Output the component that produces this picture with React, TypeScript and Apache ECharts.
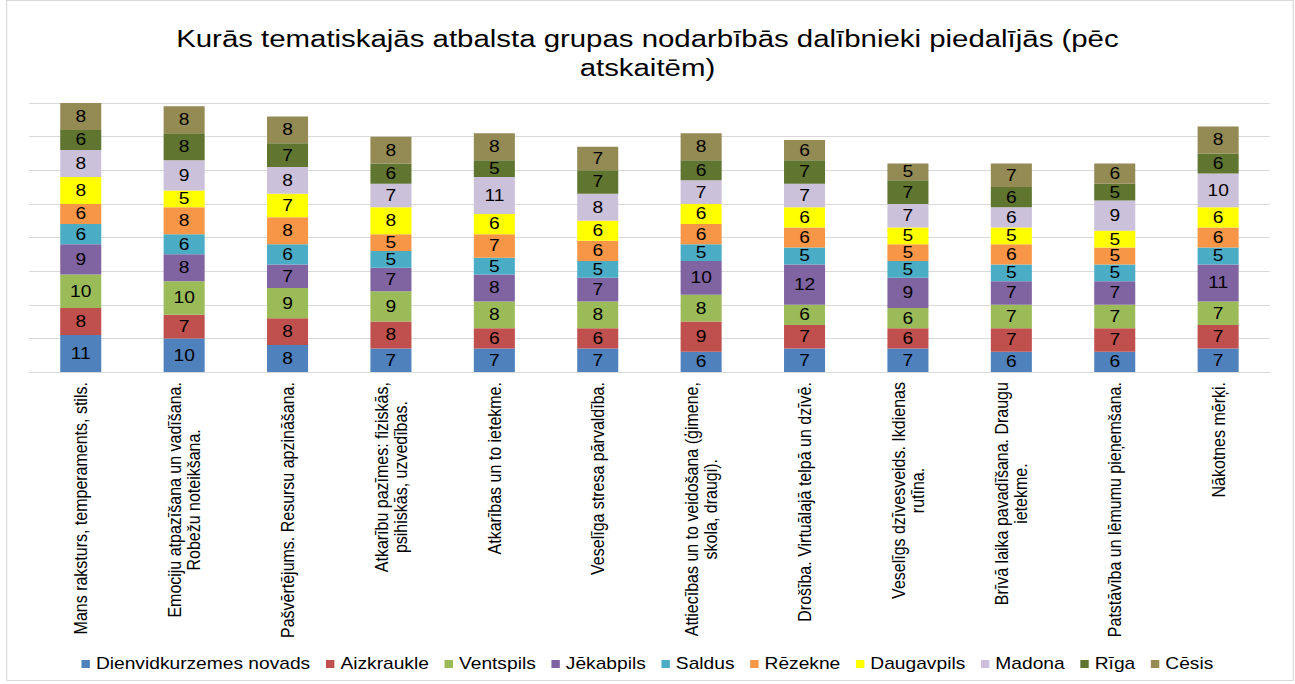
import React, { useEffect, useRef } from "react";
import * as echarts from "echarts";

const categories = [
  "Mans raksturs, temperaments, stils.",
  "Emociju atpazīšana un vadīšana.\nRobežu noteikšana.",
  "Pašvērtējums. Resursu apzināšana.",
  "Atkarību pazīmes: fiziskās,\npsihiskās, uzvedības.",
  "Atkarības un to ietekme.",
  "Veselīga stresa pārvaldība.",
  "Attiecības un to veidošana (ģimene,\nskola, draugi).",
  "Drošība. Virtuālajā telpā un dzīvē.",
  "Veselīgs dzīvesveids. Ikdienas\nrutīna.",
  "Brīvā laika pavadīšana. Draugu\nietekme.",
  "Patstāvība un lēmumu pieņemšana.",
  "Nākotnes mērķi.",
];

const seriesNames = [
  "Dienvidkurzemes novads",
  "Aizkraukle",
  "Ventspils",
  "Jēkabpils",
  "Saldus",
  "Rēzekne",
  "Daugavpils",
  "Madona",
  "Rīga",
  "Cēsis",
];

const dienvidkurzeme = [11, 10, 8, 7, 7, 7, 6, 7, 7, 6, 6, 7];
const aizkraukle = [8, 7, 8, 8, 6, 6, 9, 7, 6, 7, 7, 7];
const ventspils = [10, 10, 9, 9, 8, 8, 8, 6, 6, 7, 7, 7];
const jekabpils = [9, 8, 7, 7, 8, 7, 10, 12, 9, 7, 7, 11];
const saldus = [6, 6, 6, 5, 5, 5, 5, 5, 5, 5, 5, 5];
const rezekne = [6, 8, 8, 5, 7, 6, 6, 6, 5, 6, 5, 6];
const daugavpils = [8, 5, 7, 8, 6, 6, 6, 6, 5, 5, 5, 6];
const madona = [8, 9, 8, 7, 11, 8, 7, 7, 7, 6, 9, 10];
const riga = [6, 8, 7, 6, 5, 7, 6, 7, 7, 6, 5, 6];
const cesis = [8, 8, 8, 8, 8, 7, 8, 6, 5, 7, 6, 8];

const seriesValues = [
  dienvidkurzeme,
  aizkraukle,
  ventspils,
  jekabpils,
  saldus,
  rezekne,
  daugavpils,
  madona,
  riga,
  cesis,
];

const colors = [
  "#4F81BD",
  "#C0504D",
  "#9BBB59",
  "#8064A2",
  "#4BACC6",
  "#F79646",
  "#FFFF00",
  "#CCC1DA",
  "#5F7530",
  "#948A54",
];

const FONT = "'Liberation Sans', Arial, sans-serif";
const STRETCH = 1.2;
const W = 1295;
const H = 684;
const INNER_W = W / STRETCH;

export default function App() {
  const ref = useRef<HTMLDivElement>(null);

  useEffect(() => {
    if (!ref.current) return;
    const chart = echarts.init(ref.current, null, { renderer: "svg" });
    chart.setOption({
      animation: false,
      color: colors,
      textStyle: { fontFamily: FONT },
      title: {
        text: "Kurās tematiskajās atbalsta grupas nodarbībās dalībnieki piedalījās (pēc\natskaitēm)",
        left: "center",
        top: 19,
        textStyle: {
          fontFamily: FONT,
          fontSize: 24.5,
          fontWeight: "normal",
          color: "#000",
          lineHeight: 29,
        },
      },
      graphic: [
        {
          type: "rect",
          shape: { x: 5.5, y: 0.5, width: INNER_W - 7, height: 680 },
          style: { fill: "none", stroke: "#D9D9D9", lineWidth: 1 },
          silent: true,
        },
      ],
      legend: {
        bottom: 7,
        left: "center",
        icon: "rect",
        itemWidth: 7,
        itemHeight: 8,
        itemGap: 13,
        textStyle: { fontFamily: FONT, fontSize: 16, color: "#000", padding: [0, 0, 0, 0] },
        data: seriesNames,
      },
      grid: { left: 24.2, right: 20.8, top: 103, bottom: 312, containLabel: false },
      xAxis: {
        type: "category",
        data: categories,
        axisLine: { lineStyle: { color: "#D9D9D9" } },
        axisTick: { show: false },
        axisLabel: {
          interval: 0,
          rotate: 90,
          margin: 10,
          fontFamily: FONT,
          fontSize: 16,
          color: "#000",
          lineHeight: 16,
          formatter: (v: string) =>
            v
              .split("\n")
              .map((l) => `{c|${l}}`)
              .join("\n"),
          rich: { c: { align: "center", fontSize: 16, lineHeight: 16, fontFamily: FONT, color: "#000" } },
        },
      },
      yAxis: {
        type: "value",
        min: 0,
        max: 80,
        interval: 10,
        axisLabel: { show: false },
        axisLine: { show: false },
        axisTick: { show: false },
        splitLine: { lineStyle: { color: "#D9D9D9" } },
      },
      series: seriesNames.map((name, i) => ({
        name,
        type: "bar",
        stack: "total",
        barWidth: 34.2,
        data: seriesValues[i],
        label: {
          show: true,
          position: "inside",
          color: "#000",
          fontSize: 16,
          fontFamily: FONT,
        },
      })),
    });
    return () => chart.dispose();
  }, []);

  return (
    <div style={{ position: "fixed", left: 0, top: 0, width: W, height: H, background: "#fff", overflow: "hidden" }}>
      <div
        ref={ref}
        style={{
          width: INNER_W,
          height: H,
          transform: `scaleX(${STRETCH})`,
          transformOrigin: "0 0",
        }}
      />
    </div>
  );
}
